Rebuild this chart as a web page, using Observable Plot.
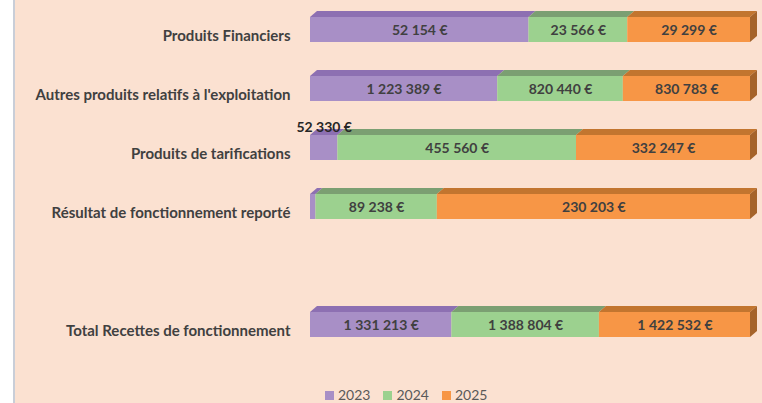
<!DOCTYPE html>
<html>
<head>
<meta charset="utf-8">
<script src="https://cdn.jsdelivr.net/npm/d3@7"></script>
<script src="https://cdn.jsdelivr.net/npm/@observablehq/plot@0.6"></script>
<style>
  html, body { margin: 0; padding: 0; background: #ffffff; }
  #wrap { position: relative; width: 762px; height: 403px; overflow: hidden; }
  #bg { position: absolute; left: 13px; top: 0; width: 749px; height: 403px; background: #FBE1D1; border-left: 2px solid #C9CED8; box-sizing: border-box; }
  #chart { position: absolute; left: 0; top: 0; }
  #legend { position: absolute; left: 325px; top: 386px; display: flex; gap: 13px; font-family: Lato, "Noto Sans", sans-serif; font-size: 14px; color: #595959; line-height: 18px; }
  #legend .item { display: flex; align-items: center; gap: 4px; }
  #legend .sw { width: 9px; height: 9px; display: inline-block; }
</style>
</head>
<body>
<div id="wrap">
  <div id="bg"></div>
  <div id="chart"></div>
  <div id="legend"></div>
</div>
<script>
// ---- data ----
const categories = [
  "Produits Financiers",
  "Autres produits relatifs à l'exploitation",
  "Produits de tarifications",
  "Résultat de fonctionnement reporté",
  " ",
  "Total Recettes de fonctionnement"
];
const years = ["2023", "2024", "2025"];
const values2023 = [52154, 1223389, 52330, 4000, null, 1331213];
const values2024 = [23566, 820440, 455560, 89238, null, 1388804];
const values2025 = [29299, 830783, 332247, 230203, null, 1422532];

const frontColors = ["#A88FC6", "#9CD18F", "#F79646"];
const topColors   = ["#8D70B2", "#7B9F72", "#C2752F"];
const sideColors  = ["#7A5E9C", "#6A8A62", "#A5632A"];

// ---- table ----
const series = [values2023, values2024, values2025];
const table = [];
categories.forEach((cat, i) => {
  years.forEach((year, j) => {
    const v = series[j][i];
    if (v != null) table.push({cat, year, value: v});
  });
});
const totals = new Map();
table.forEach(d => totals.set(d.cat, (totals.get(d.cat) || 0) + d.value));

const locale = d3.formatLocale({decimal: ",", thousands: "\u00a0", grouping: [3], currency: ["", "\u00a0€"]});
const fmt = d => locale.format(",d")(d.value) + "\u00a0€";
const share = d => d.value / totals.get(d.cat);

const plot = Plot.plot({
  width: 762,
  height: 382,
  marginLeft: 310,
  marginRight: 12,
  marginTop: 4,
  marginBottom: 32,
  style: {background: "transparent", fontFamily: "Lato, 'Noto Sans', sans-serif", fontSize: "15px", fontWeight: "bold", color: "#404040"},
  x: {axis: null},
  y: {domain: categories, paddingInner: 0.58, paddingOuter: 0.2, axis: null},
  color: {domain: years, range: frontColors},
  marks: [
    Plot.axisY({tickSize: 0, tickPadding: 20, dy: 6, fontSize: 15, label: null}),
    Plot.barX(table, Plot.stackX({x: "value", y: "cat", fill: "year", offset: "normalize"})),
    Plot.text(table, Plot.stackX({x: "value", y: "cat", z: "year", offset: "normalize",
      text: d => share(d) >= 0.08 ? fmt(d) : "", fill: "#404040", dy: 1, fontSize: 14})),
    Plot.text(table, Plot.stackX({x: "value", y: "cat", z: "year", offset: "normalize",
      text: d => (share(d) < 0.08 && share(d) >= 0.03) ? fmt(d) : "", fill: "#262626", dy: -20, fontSize: 14}))
  ]
});
document.getElementById("chart").appendChild(plot);

// ---- 3D faces derived from the bars Plot drew ----
const ns = "http://www.w3.org/2000/svg";
const dX = 7, dY = 6;
const barG = plot.querySelector('g[aria-label="bar"]');
if (barG) {
  const rects = Array.from(barG.querySelectorAll("rect"));
  const info = rects.map(r => ({
    x: +r.getAttribute("x"), y: +r.getAttribute("y"),
    w: +r.getAttribute("width"), h: +r.getAttribute("height"),
    fill: (r.getAttribute("fill") || "").toUpperCase()
  }));
  const rowEnd = new Map();
  info.forEach(b => { const k = b.y.toFixed(1); rowEnd.set(k, Math.max(rowEnd.get(k) || -Infinity, b.x + b.w)); });
  const faces = document.createElementNS(ns, "g");
  info.forEach(b => {
    let idx = frontColors.findIndex(c => c.toUpperCase() === b.fill);
    if (idx < 0) idx = 0;
    const top = document.createElementNS(ns, "polygon");
    top.setAttribute("points", `${b.x},${b.y} ${b.x + b.w},${b.y} ${b.x + b.w + dX},${b.y - dY} ${b.x + dX},${b.y - dY}`);
    top.setAttribute("fill", topColors[idx]);
    faces.appendChild(top);
    if (Math.abs(b.x + b.w - rowEnd.get(b.y.toFixed(1))) < 0.01) {
      const side = document.createElementNS(ns, "polygon");
      side.setAttribute("points", `${b.x + b.w},${b.y} ${b.x + b.w + dX},${b.y - dY} ${b.x + b.w + dX},${b.y + b.h - dY} ${b.x + b.w},${b.y + b.h}`);
      side.setAttribute("fill", sideColors[idx]);
      faces.appendChild(side);
    }
  });
  barG.insertBefore(faces, barG.firstChild);
}

// ---- legend ----
const legend = document.getElementById("legend");
years.forEach((y, j) => {
  const item = document.createElement("span");
  item.className = "item";
  const sw = document.createElement("span");
  sw.className = "sw";
  sw.style.background = frontColors[j];
  const t = document.createElement("span");
  t.textContent = y;
  item.appendChild(sw); item.appendChild(t);
  legend.appendChild(item);
});
</script>
</body>
</html>
